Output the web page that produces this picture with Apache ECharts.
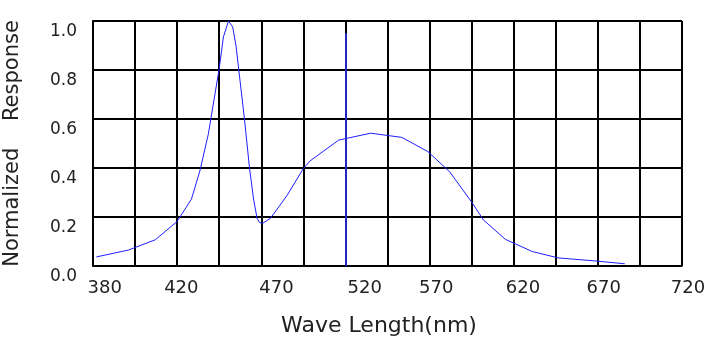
<!DOCTYPE html>
<html>
<head>
<meta charset="utf-8">
<script src="https://cdn.jsdelivr.net/npm/echarts@6/dist/echarts.min.js"></script>
<style>
  html, body { margin: 0; padding: 0; background: #fff; }
  #chart { width: 709px; height: 343px; }
</style>
</head>
<body>
<div id="chart"></div>
<script>
// spectrum (nm, normalized)
const wavelength = [372, 391, 407, 420, 428.5, 433.5, 438.5, 445, 447.5, 450.5, 453, 455, 456.5, 460, 463, 465.5, 467.5, 469, 471, 475.5, 485.5, 495, 499, 516, 535, 553.5, 569, 582, 595, 602, 615, 631, 646.5, 669.5, 686];
const response = [0.037, 0.065, 0.107, 0.182, 0.273, 0.388, 0.537, 0.806, 0.935, 1.0, 0.976, 0.898, 0.808, 0.60, 0.400, 0.269, 0.195, 0.177, 0.175, 0.195, 0.290, 0.398, 0.429, 0.514, 0.542, 0.525, 0.467, 0.384, 0.261, 0.188, 0.109, 0.059, 0.033, 0.020, 0.009];

// x tick labels and where they sit on the wavelength axis
const xTickLabels = ['380', '420', '470', '520', '570', '620', '670', '720'];
const xTickAt = [377, 422.5, 479, 531.5, 574, 625.5, 673.5, 720];

// stray blue vertical stroke in the original drawing: [x, yFrom, yTo]
const strayLine = [520, 0, 0.95];

const wlMin = 370;
const wlMax = 720;
const columns = 14;

const chart = echarts.init(document.getElementById('chart'));

const textFont = 'DejaVu Sans';

chart.setOption({
  animation: false,
  grid: {
    left: 93, right: 27, top: 21, bottom: 77,
    containLabel: false,
    outerBoundsMode: 'none',
  },
  xAxis: [
    {
      // grid columns only
      type: 'value',
      min: 0,
      max: columns,
      interval: 1,
      axisLine: { show: true, lineStyle: { color: '#000', width: 1 } },
      axisTick: { show: false },
      axisLabel: { show: false },
      splitLine: { show: true, lineStyle: { color: '#000', width: 2 } },
      name: 'Wave Length(nm)',
      nameLocation: 'middle',
      nameGap: 49,
      nameTextStyle: {
        fontFamily: textFont,
        fontSize: 22,
        color: '#222',
        padding: [0, 17, 0, 0],
      },
    },
    {
      type: 'value',
      position: 'bottom',
      min: wlMin,
      max: wlMax,
      axisLine: { show: false },
      axisTick: { show: false },
      splitLine: { show: false },
      axisLabel: {
        customValues: xTickAt,
        formatter: (v) => {
          const i = xTickAt.indexOf(v);
          if (i < 0) return '';
          // the last label hangs a little past the frame
          return i === xTickAt.length - 1 ? '{last|' + xTickLabels[i] + '}' : xTickLabels[i];
        },
        rich: {
          last: { fontFamily: textFont, fontSize: 18, color: '#222', padding: [0, 0, 0, 12] },
        },
        margin: 13,
        fontFamily: textFont,
        fontSize: 18,
        color: '#222',
        showMinLabel: true,
        showMaxLabel: true,
      },
    },
  ],
  yAxis: {
    type: 'value',
    min: 0,
    max: 1,
    interval: 0.2,
    axisLine: { show: true, lineStyle: { color: '#000', width: 2 } },
    axisTick: { show: false },
    axisLabel: {
      formatter: (v) => v.toFixed(1),
      margin: 16,
      fontFamily: textFont,
      fontSize: 17,
      color: '#222',
      verticalAlign: 'top',
      lineHeight: 22,
    },
    splitLine: { show: true, lineStyle: { color: '#000', width: 2 } },
    name: 'Normalized    Response',
    nameLocation: 'middle',
    nameGap: 70,
    nameTextStyle: {
      fontFamily: textFont,
      fontSize: 21,
      color: '#222',
    },
  },
  series: [
    {
      type: 'line',
      xAxisIndex: 1,
      showSymbol: false,
      silent: true,
      lineStyle: { color: '#1f1fff', width: 1 },
      data: wavelength.map((w, i) => [w, response[i]]),
      markLine: {
        silent: true,
        symbol: 'none',
        label: { show: false },
        lineStyle: { color: '#3030ff', width: 1.5, type: 'solid' },
        data: [[
          { coord: [strayLine[0], strayLine[1]] },
          { coord: [strayLine[0], strayLine[2]] },
        ]],
      },
    },
  ],
});
</script>
</body>
</html>
